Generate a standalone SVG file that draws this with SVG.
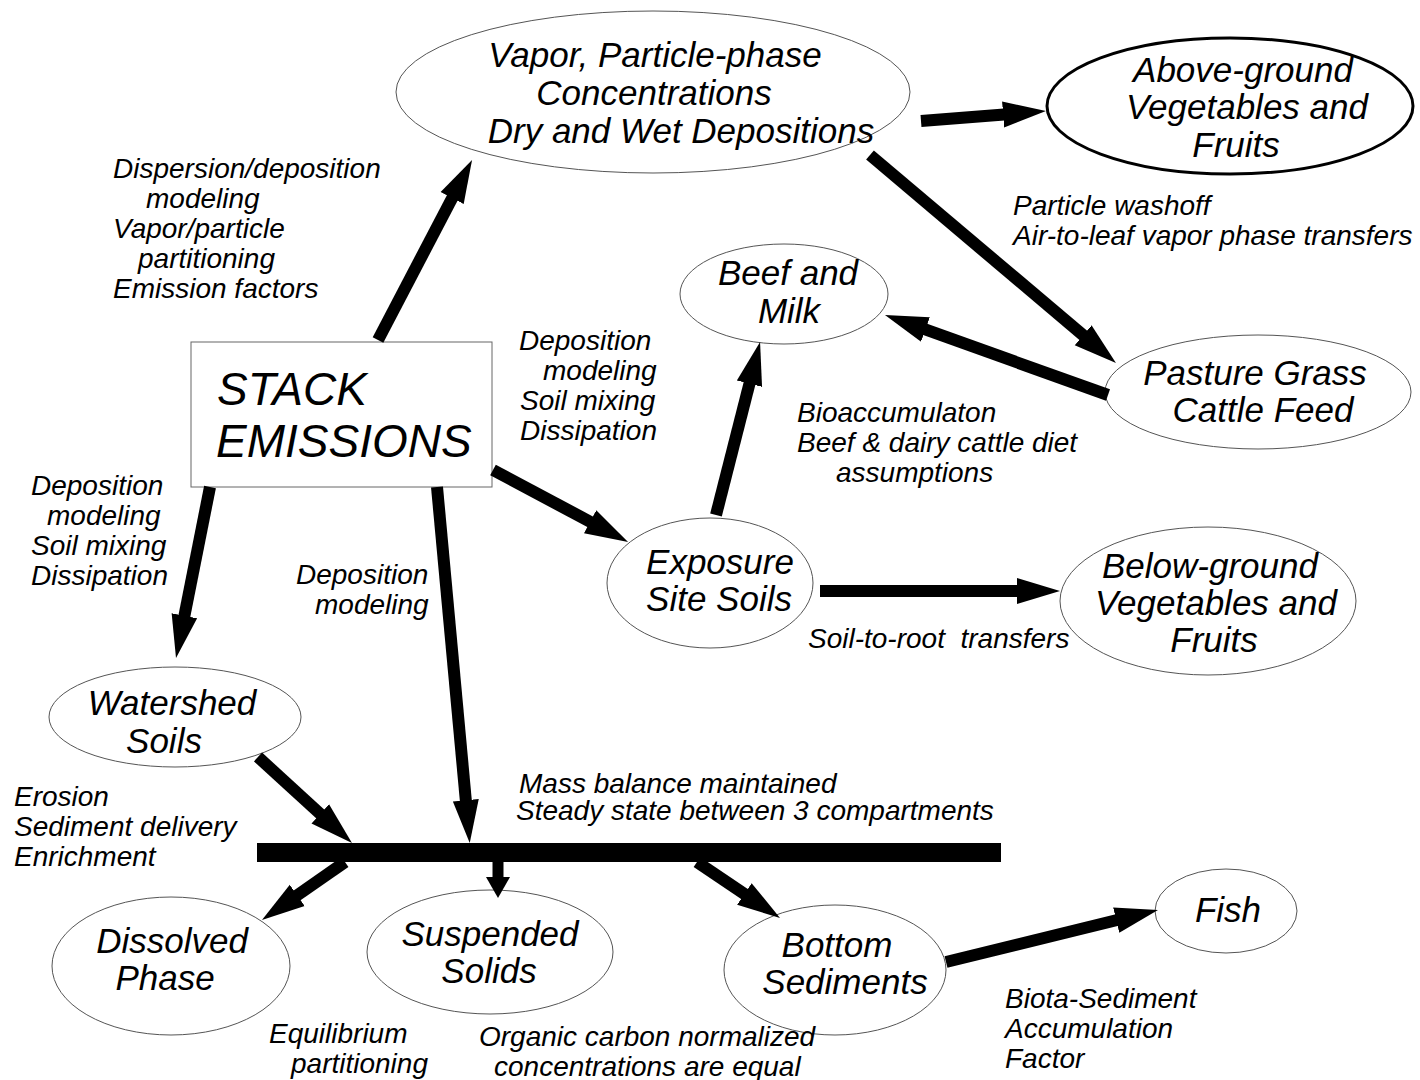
<svg xmlns="http://www.w3.org/2000/svg" width="1420" height="1080" viewBox="0 0 1420 1080">
<defs>
<style>
text{font-family:"Liberation Sans",Arial,sans-serif;font-style:italic;fill:#000}
.n{font-size:35px;text-anchor:middle}
.l{font-size:28px}
.e{fill:#fff;stroke:#555;stroke-width:1}
.eb{fill:#fff;stroke:#000;stroke-width:3}
.c line{stroke:#000;stroke-width:12;stroke-linecap:butt;marker-end:url(#ah)}
</style>
<marker id="ah" markerUnits="userSpaceOnUse" markerWidth="46" markerHeight="28" refX="1" refY="14" orient="auto">
<path d="M0,1 L43,14 L0,27 z" fill="#000"/>
</marker>
<marker id="ahs" markerUnits="userSpaceOnUse" markerWidth="24" markerHeight="26" refX="1" refY="13" orient="auto">
<path d="M0,1 L21,13 L0,25 z" fill="#000"/>
</marker>
</defs>
<rect width="1420" height="1080" fill="#fff"/>

<g id="stack">
<rect x="191" y="342" width="301" height="145" fill="#fff" stroke="#666" stroke-width="1"/>
<text x="217" y="405" style="font-size:46px">STACK</text>
<text x="216" y="457" style="font-size:46px">EMISSIONS</text>
</g>
<g id="vapor">
<ellipse class="e" cx="653" cy="92" rx="257" ry="81"/>
<text class="n" x="655" y="67">Vapor, Particle-phase</text>
<text class="n" x="654" y="105">Concentrations</text>
<text class="n" x="681" y="143">Dry and Wet Depositions</text>
</g>
<g id="aboveground">
<ellipse class="eb" cx="1230" cy="106" rx="183" ry="68"/>
<text class="n" x="1243" y="82">Above-ground</text>
<text class="n" x="1247" y="119">Vegetables and</text>
<text class="n" x="1236" y="157">Fruits</text>
</g>
<g id="beef">
<ellipse class="e" cx="784" cy="294" rx="104" ry="50"/>
<text class="n" x="788" y="285">Beef and</text>
<text class="n" x="789" y="323">Milk</text>
</g>
<g id="pasture">
<ellipse class="e" cx="1258" cy="392" rx="153" ry="57"/>
<text class="n" x="1255" y="385">Pasture Grass</text>
<text class="n" x="1263" y="422">Cattle Feed</text>
</g>
<g id="exposure">
<ellipse class="e" cx="710" cy="583" rx="103" ry="65"/>
<text class="n" x="720" y="574">Exposure</text>
<text class="n" x="719" y="611">Site Soils</text>
</g>
<g id="belowground">
<ellipse class="e" cx="1208" cy="601" rx="148" ry="74"/>
<text class="n" x="1210" y="578">Below-ground</text>
<text class="n" x="1216" y="615">Vegetables and</text>
<text class="n" x="1214" y="652">Fruits</text>
</g>
<g id="watershed">
<ellipse class="e" cx="175" cy="717" rx="126" ry="50"/>
<text class="n" x="172" y="715">Watershed</text>
<text class="n" x="164" y="753">Soils</text>
</g>
<g id="dissolved">
<ellipse class="e" cx="171" cy="966" rx="119" ry="69"/>
<text class="n" x="172" y="953">Dissolved</text>
<text class="n" x="165" y="990">Phase</text>
</g>
<g id="suspended">
<ellipse class="e" cx="490" cy="952" rx="123" ry="62"/>
<text class="n" x="490" y="946">Suspended</text>
<text class="n" x="489" y="983">Solids</text>
</g>
<g id="bottom">
<ellipse class="e" cx="835" cy="970" rx="111" ry="65"/>
<text class="n" x="837" y="957">Bottom</text>
<text class="n" x="845" y="994">Sediments</text>
</g>
<g id="fish">
<ellipse class="e" cx="1226" cy="911" rx="71" ry="42"/>
<text class="n" x="1228" y="922">Fish</text>
</g>
<g id="waterbody">
<rect x="257" y="843" width="744" height="19" fill="#000"/>
</g>

<g id="connectors" class="c">
<line x1="378" y1="340" x2="452.6" y2="197.2"/>
<line x1="921" y1="121" x2="1004.1" y2="114.4"/>
<line x1="870" y1="155" x2="1083.9" y2="335.9"/>
<line x1="1108" y1="395" x2="924.5" y2="329.2"/>
<line x1="493" y1="470" x2="591" y2="522.2"/>
<line x1="716" y1="515" x2="749.7" y2="382.7"/>
<line x1="820" y1="591" x2="1018" y2="591"/>
<line x1="210" y1="487" x2="184.2" y2="616.8"/>
<line x1="437" y1="487" x2="465.9" y2="801.2"/>
<line x1="258" y1="757" x2="321" y2="814.6"/>
<line x1="345" y1="862" x2="296.4" y2="895.9"/>
<line x1="498" y1="862" x2="498" y2="878" style="stroke-width:11;marker-end:url(#ahs)"/>
<line x1="697" y1="862" x2="745.2" y2="894.5"/>
<line x1="946" y1="962" x2="1117.2" y2="920"/>
</g>

<g id="labels" class="l">
<text x="113" y="178">Dispersion/deposition</text>
<text x="146" y="208">modeling</text>
<text x="113" y="238">Vapor/particle</text>
<text x="138" y="268">partitioning</text>
<text x="113" y="298">Emission factors</text>

<text x="1013" y="215">Particle washoff</text>
<text x="1013" y="245">Air-to-leaf vapor phase transfers</text>

<text x="519" y="350">Deposition</text>
<text x="543" y="380">modeling</text>
<text x="520" y="410">Soil mixing</text>
<text x="520" y="440">Dissipation</text>

<text x="31" y="495">Deposition</text>
<text x="47" y="525">modeling</text>
<text x="31" y="555">Soil mixing</text>
<text x="31" y="585">Dissipation</text>

<text x="296" y="584">Deposition</text>
<text x="315" y="614">modeling</text>

<text x="797" y="422">Bioaccumulaton</text>
<text x="797" y="452">Beef &amp; dairy cattle diet</text>
<text x="836" y="482">assumptions</text>

<text x="808" y="648" xml:space="preserve">Soil-to-root  transfers</text>

<text x="14" y="806">Erosion</text>
<text x="14" y="836">Sediment delivery</text>
<text x="14" y="866">Enrichment</text>

<text x="519" y="793">Mass balance maintained</text>
<text x="516" y="820">Steady state between 3 compartments</text>

<text x="269" y="1043">Equilibrium</text>
<text x="291" y="1073">partitioning</text>

<text x="479" y="1046">Organic carbon normalized</text>
<text x="494" y="1076">concentrations are equal</text>

<text x="1005" y="1008">Biota-Sediment</text>
<text x="1005" y="1038">Accumulation</text>
<text x="1005" y="1068">Factor</text>
</g>
</svg>
